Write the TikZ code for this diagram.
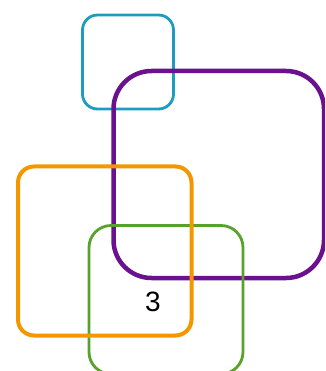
\documentclass[tikz,border=0pt]{standalone}
\usepackage{fontspec}
\setmainfont{Liberation Sans}
\begin{document}
\begin{tikzpicture}[x=1pt,y=-1pt,
  box/.style={rounded corners=#1},
]
\definecolor{cblue}{HTML}{1E9CC0}
\definecolor{cpurple}{HTML}{69118F}
\definecolor{corange}{HTML}{F49600}
\definecolor{cgreen}{HTML}{57A22B}
\useasboundingbox (0,0) rectangle (325,371);
\clip (0,0) rectangle (325,371);
\draw[cblue,line width=2.8pt,rounded corners=15pt] (82.5,15) rectangle (173.5,109) coordinate (bl);
\draw[cpurple,line width=4.5pt,rounded corners=38pt] (113.5,71) rectangle (324,278);
\draw[cgreen,line width=2.8pt,rounded corners=22pt] (89,225.5) rectangle (243,374);
\draw[corange,line width=4pt,rounded corners=16pt] (18,166.5) rectangle (191.5,335.5);
\node[font=\fontsize{28}{30}\selectfont,inner sep=0pt] (t) at (153,302) {3};
\end{tikzpicture}
\end{document}
